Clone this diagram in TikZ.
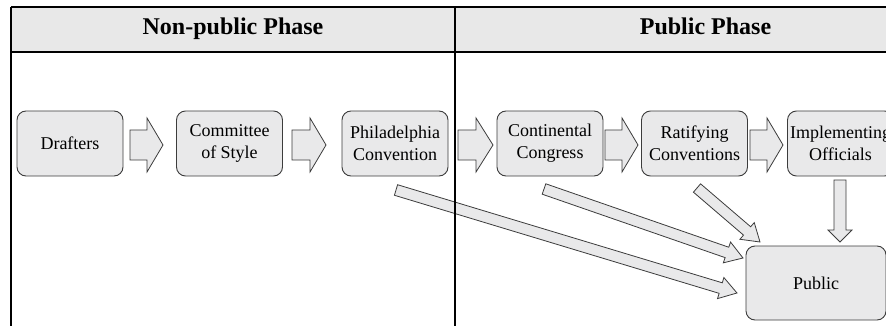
\documentclass[tikz,border=0pt]{standalone}
\usepackage{fontspec}
\setmainfont{Liberation Serif}
\usetikzlibrary{calc}
\definecolor{boxfill}{HTML}{E9E9EA}
\definecolor{headfill}{HTML}{E8E8E8}
\definecolor{boxline}{HTML}{3C3C3C}
\newcommand{\blockarrow}[5]{%
  \draw[barrow] let \p1=(#1), \p2=(#2),
    \n1={atan2(\y2-\y1,\x2-\x1)}, \n2={veclen(\x2-\x1,\y2-\y1)} in
    [shift={(\p1)}, rotate=\n1]
    (0pt,-#3) -- ({\n2-#5},-#3) -- ({\n2-#5},-#4) -- (\n2,0pt)
    -- ({\n2-#5},#4) -- ({\n2-#5},#3) -- (0pt,#3) -- cycle;}
\tikzset{
  box/.style={draw=boxline, fill=boxfill, rounded corners=9pt, line width=0.9pt,
    minimum width=106pt, minimum height=65pt, align=center, inner sep=0pt,
    font=\fontsize{18}{22}\selectfont},
  barrow/.style={draw=boxline, fill=boxfill, line width=0.8pt, line join=miter},
  head/.style={font=\fontsize{24}{28}\selectfont\bfseries, anchor=base},
  rule/.style={line width=2.4pt, black}
}
\begin{document}
\begin{tikzpicture}[x=1pt,y=-1pt]
\clip (0,0) rectangle (886,326);
\fill[white] (0,0) rectangle (886,326);
% header band
\fill[headfill] (11,7) rectangle (900,52);
\node[head] (h1) at (233,35) {Non-public Phase};
\node[head] (h2) at (705.5,35) {Public Phase};
% boxes
\node[box] (drafters) at (70,143.5) {Drafters};
\node[box] (committee) at (229.5,143.5) {Committee\\of Style};
\node[box] (phila) at (395,143.5) {Philadelphia\\Convention};
\node[box] (cont) at (550,143.5) {Continental\\Congress};
\node[box] (ratif) at (694.5,143.5) {Ratifying\\Conventions};
\node[box] (impl) at (840.5,143.5) {Implementing\\Officials};
\node[box, minimum width=140pt, minimum height=74pt] (public) at (816,283) {Public};
% arrow end points
\coordinate (a1s) at (130,145); \coordinate (a1e) at (163,145);
\coordinate (a2s) at (292,145); \coordinate (a2e) at (326,145);
\coordinate (a3s) at (458,145); \coordinate (a3e) at (493,145);
\coordinate (a4s) at (605,145); \coordinate (a4e) at (638,145);
\coordinate (a5s) at (750,145); \coordinate (a5e) at (783,145);
\coordinate (dns) at (840,180); \coordinate (dne) at (840,242);
\coordinate (d1s) at (396,190); \coordinate (d1e) at (737,293);
\coordinate (d2s) at (544,189); \coordinate (d2e) at (743,258);
\coordinate (d3s) at (697,188); \coordinate (d3e) at (760,242);
% horizontal block arrows
\blockarrow{a1s}{a1e}{15pt}{27pt}{16pt}
\blockarrow{a2s}{a2e}{15pt}{27pt}{16pt}
\blockarrow{a3s}{a3e}{15pt}{27pt}{17pt}
\blockarrow{a4s}{a4e}{15pt}{27pt}{16pt}
\blockarrow{a5s}{a5e}{15pt}{27pt}{16pt}
% down arrow
\blockarrow{dns}{dne}{6pt}{12pt}{12pt}
% diagonal arrows
\blockarrow{d1s}{d1e}{5.5pt}{11pt}{17pt}
\blockarrow{d2s}{d2e}{5.5pt}{11pt}{17pt}
\blockarrow{d3s}{d3e}{5.5pt}{11pt}{17pt}
% table rules
\draw[rule] (11,7) -- (900,7);
\draw[rule] (11,52) -- (900,52);
\draw[rule] (11,7) -- (11,330);
\draw[rule] (455,7) -- (455,330);
\end{tikzpicture}
\end{document}
